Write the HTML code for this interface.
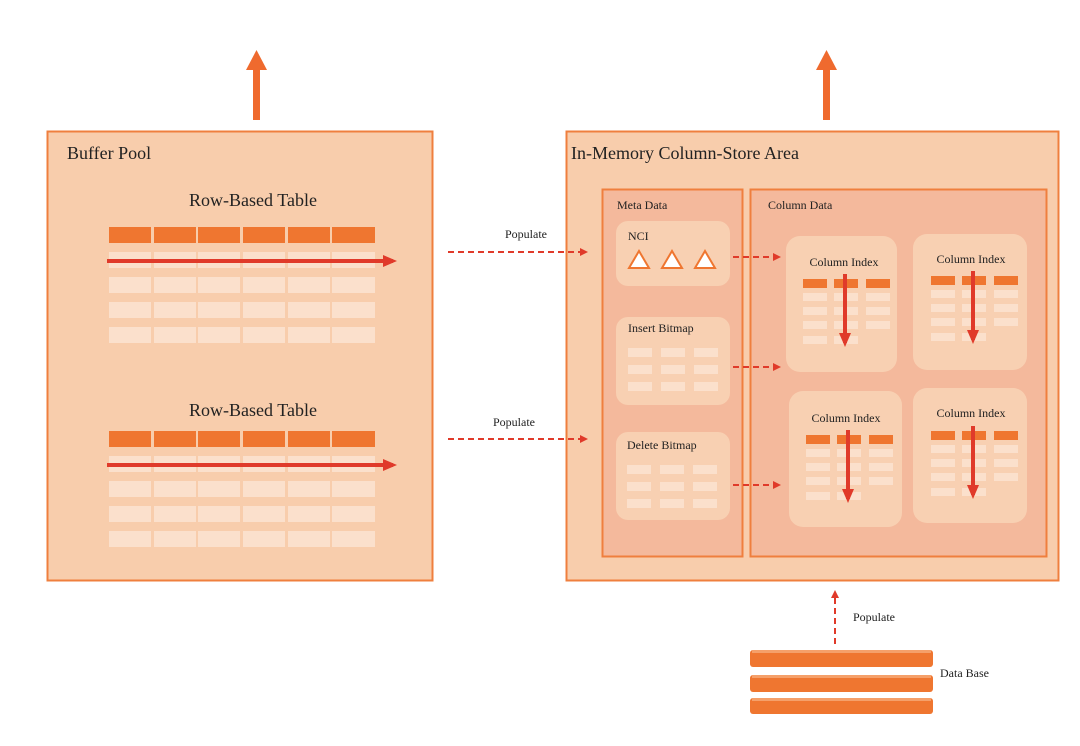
<!DOCTYPE html>
<html><head><meta charset="utf-8"><style>
html,body{margin:0;padding:0;background:#fff;}
svg{display:block;font-family:"Liberation Serif",serif;}
</style></head><body>
<svg width="1080" height="746" viewBox="0 0 1080 746" xmlns="http://www.w3.org/2000/svg">
<defs>
<marker id="ah" markerWidth="8" markerHeight="8" refX="6" refY="4" orient="auto" markerUnits="userSpaceOnUse"><path d="M0,0 L8,4 L0,8 z" fill="#e03a2a"/></marker>
<marker id="big" markerWidth="14" markerHeight="12" refX="10" refY="6" orient="auto" markerUnits="userSpaceOnUse"><path d="M0,0 L14,6 L0,12 z" fill="#e03a2a"/></marker>
<g id="rt">
<g fill="#ef7630"><rect x="0" y="0" width="42" height="16"/><rect x="45" y="0" width="42" height="16"/><rect x="89" y="0" width="42" height="16"/><rect x="134" y="0" width="42" height="16"/><rect x="179" y="0" width="42" height="16"/><rect x="223" y="0" width="43" height="16"/></g>
<g fill="#fbe0cc">
<rect x="0" y="25" width="42" height="16"/><rect x="45" y="25" width="42" height="16"/><rect x="89" y="25" width="42" height="16"/><rect x="134" y="25" width="42" height="16"/><rect x="179" y="25" width="42" height="16"/><rect x="223" y="25" width="43" height="16"/>
<rect x="0" y="50" width="42" height="16"/><rect x="45" y="50" width="42" height="16"/><rect x="89" y="50" width="42" height="16"/><rect x="134" y="50" width="42" height="16"/><rect x="179" y="50" width="42" height="16"/><rect x="223" y="50" width="43" height="16"/>
<rect x="0" y="75" width="42" height="16"/><rect x="45" y="75" width="42" height="16"/><rect x="89" y="75" width="42" height="16"/><rect x="134" y="75" width="42" height="16"/><rect x="179" y="75" width="42" height="16"/><rect x="223" y="75" width="43" height="16"/>
<rect x="0" y="100" width="42" height="16"/><rect x="45" y="100" width="42" height="16"/><rect x="89" y="100" width="42" height="16"/><rect x="134" y="100" width="42" height="16"/><rect x="179" y="100" width="42" height="16"/><rect x="223" y="100" width="43" height="16"/>
</g>
<line x1="-2" y1="34" x2="284" y2="34" stroke="#e03a2a" stroke-width="4" marker-end="url(#big)"/>
</g>
<g id="ci">
<g fill="#ef7630"><rect x="0" y="0" width="24" height="9"/><rect x="31" y="0" width="24" height="9"/><rect x="63" y="0" width="24" height="9"/></g>
<g fill="#fbe0cc">
<rect x="0" y="14" width="24" height="8"/><rect x="31" y="14" width="24" height="8"/><rect x="63" y="14" width="24" height="8"/>
<rect x="0" y="28" width="24" height="8"/><rect x="31" y="28" width="24" height="8"/><rect x="63" y="28" width="24" height="8"/>
<rect x="0" y="42" width="24" height="8"/><rect x="31" y="42" width="24" height="8"/><rect x="63" y="42" width="24" height="8"/>
<rect x="0" y="57" width="24" height="8"/><rect x="31" y="57" width="24" height="8"/>
</g>
<line x1="42" y1="-5" x2="42" y2="64" stroke="#e03a2a" stroke-width="4" marker-end="url(#big)"/>
</g>
<g id="bm" fill="#fbe0cc">
<rect x="0" y="0" width="24" height="9"/><rect x="33" y="0" width="24" height="9"/><rect x="66" y="0" width="24" height="9"/>
<rect x="0" y="17" width="24" height="9"/><rect x="33" y="17" width="24" height="9"/><rect x="66" y="17" width="24" height="9"/>
<rect x="0" y="34" width="24" height="9"/><rect x="33" y="34" width="24" height="9"/><rect x="66" y="34" width="24" height="9"/>
</g>
</defs>

<!-- up arrows -->
<rect x="253" y="68" width="7" height="52" fill="#ef6a2e"/><path d="M246,70 L256.5,50 L267,70 z" fill="#ef6a2e"/>
<rect x="823" y="68" width="7" height="52" fill="#ef6a2e"/><path d="M816,70 L826.5,50 L837,70 z" fill="#ef6a2e"/>

<!-- Buffer pool -->
<rect x="47.5" y="131.5" width="385" height="449" fill="#f8cdac" stroke="#ef7f3e" stroke-width="2"/>
<text x="67" y="159" font-size="18" fill="#222">Buffer Pool</text>
<text x="253" y="206" font-size="18" fill="#222" text-anchor="middle">Row-Based Table</text>
<use href="#rt" x="109" y="227"/>
<text x="253" y="416" font-size="18" fill="#222" text-anchor="middle">Row-Based Table</text>
<use href="#rt" x="109" y="431"/>

<!-- In-memory -->
<rect x="566.5" y="131.5" width="492" height="449" fill="#f8cdac" stroke="#ef7f3e" stroke-width="2"/>
<text x="571" y="159" font-size="18" fill="#222">In-Memory Column-Store Area</text>
<rect x="602.5" y="189.5" width="140" height="367" fill="#f4b99c" stroke="#ef7f3e" stroke-width="2"/>
<rect x="750.5" y="189.5" width="296" height="367" fill="#f4b99c" stroke="#ef7f3e" stroke-width="2"/>
<text x="617" y="209" font-size="12" fill="#222">Meta Data</text>
<text x="768" y="209" font-size="12" fill="#222">Column Data</text>

<rect x="616" y="221" width="114" height="65" rx="12" fill="#f8d0b2"/>
<text x="628" y="240" font-size="12" fill="#222">NCI</text>
<g fill="#fff" stroke="#ef7630" stroke-width="2"><path d="M629,268 L639,251 L649,268 z"/><path d="M662,268 L672,251 L682,268 z"/><path d="M695,268 L705,251 L715,268 z"/></g>
<rect x="616" y="317" width="114" height="88" rx="12" fill="#f8d0b2"/>
<text x="628" y="332" font-size="12" fill="#222">Insert Bitmap</text>
<use href="#bm" x="628" y="348"/>
<rect x="616" y="432" width="114" height="88" rx="12" fill="#f8d0b2"/>
<text x="627" y="449" font-size="12" fill="#222">Delete Bitmap</text>
<use href="#bm" x="627" y="465"/>

<rect x="786" y="236" width="111" height="136" rx="14" fill="#f8d0b2"/>
<text x="844" y="266" font-size="12" fill="#222" text-anchor="middle">Column Index</text>
<use href="#ci" x="803" y="279"/>
<rect x="913" y="234" width="114" height="136" rx="14" fill="#f8d0b2"/>
<text x="971" y="263" font-size="12" fill="#222" text-anchor="middle">Column Index</text>
<use href="#ci" x="931" y="276"/>
<rect x="789" y="391" width="113" height="136" rx="14" fill="#f8d0b2"/>
<text x="846" y="422" font-size="12" fill="#222" text-anchor="middle">Column Index</text>
<use href="#ci" x="806" y="435"/>
<rect x="913" y="388" width="114" height="135" rx="14" fill="#f8d0b2"/>
<text x="971" y="417" font-size="12" fill="#222" text-anchor="middle">Column Index</text>
<use href="#ci" x="931" y="431"/>

<!-- dashed connectors -->
<g stroke="#e03a2a" stroke-width="2" stroke-dasharray="6,4" fill="none">
<line x1="448" y1="252" x2="586" y2="252" marker-end="url(#ah)"/>
<line x1="448" y1="439" x2="586" y2="439" marker-end="url(#ah)"/>
<line x1="733" y1="257" x2="779" y2="257" marker-end="url(#ah)"/>
<line x1="733" y1="367" x2="779" y2="367" marker-end="url(#ah)"/>
<line x1="733" y1="485" x2="779" y2="485" marker-end="url(#ah)"/>
<line x1="835" y1="644" x2="835" y2="592" marker-end="url(#ah)"/>
</g>
<text x="505" y="238" font-size="12" fill="#222">Populate</text>
<text x="493" y="426" font-size="12" fill="#222">Populate</text>
<text x="853" y="621" font-size="12" fill="#222">Populate</text>

<!-- database -->
<g fill="#ef7630">
<rect x="750" y="650" width="183" height="17" rx="3"/>
<rect x="750" y="675" width="183" height="17" rx="3"/>
<rect x="750" y="698" width="183" height="16" rx="3"/>
</g>
<g fill="#f5a06a"><rect x="752" y="650" width="179" height="3"/><rect x="752" y="675" width="179" height="3"/><rect x="752" y="698" width="179" height="3"/></g>
<text x="940" y="677" font-size="12" fill="#222">Data Base</text>
</svg>
</body></html>
